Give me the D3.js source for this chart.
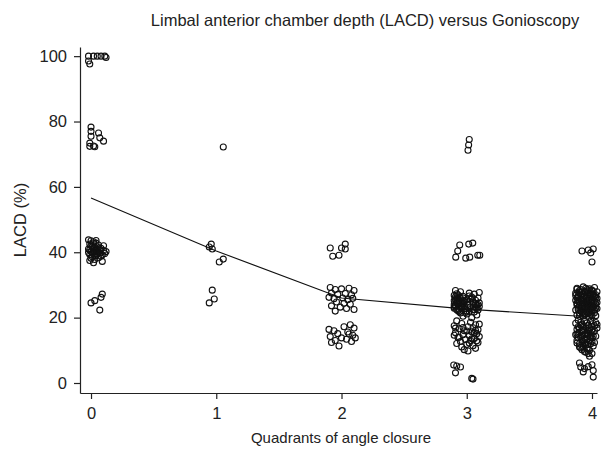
<!DOCTYPE html>
<html><head><meta charset="utf-8">
<script src="https://cdn.jsdelivr.net/npm/d3@7/dist/d3.min.js"></script>
<style>body{margin:0;background:#fff}svg{display:block}text{font-family:"Liberation Sans",Arial,Helvetica,sans-serif;fill:#222}</style>
</head><body><svg id="c" width="601" height="459"></svg>
<script>
const title = "Limbal anterior chamber depth (LACD) versus Gonioscopy";
const xLabel = "Quadrants of angle closure";
const yLabel = "LACD (%)";
const xTicks = [0, 1, 2, 3, 4];
const yTicks = [0, 20, 40, 60, 80, 100];

// fitted line (quadrant, mean LACD)
const lineQ = [0, 1, 2, 3, 4];
const lineV = [56.6, 40.4, 26.0, 22.6, 20.2];

// points: [jittered quadrant offset, LACD %]
const g0 = [[-0.02,100],[0.02,100],[0.05,100],[0.08,100],[0.11,100],[0.12,99.6],[-0.02,98.5],[-0.01,97.6],
  [0.0,78.3],[0.0,77],[0.0,75.5],[-0.01,73.4],[-0.01,72.4],[0.02,72.5],[0.06,76.5],[0.07,75],[0.1,74],[0.03,72.3],
  [-0.02,43.8],[0.0,43.5],[0.02,43.2],[0.04,42.8],[-0.01,42.5],[0.06,42.2],[0.01,41.8],[0.03,41.5],[0.08,41.2],[-0.02,41],
  [0.05,40.8],[0.1,40.5],[0.0,40.2],[0.02,40],[0.07,39.8],[0.11,39.6],[-0.01,39.3],[0.04,39],[0.09,39.2],[0.12,40.2],
  [0.01,38.6],[0.06,38.3],[0.03,37.8],[-0.01,37.5],[0.09,37.2],[0.02,36.8],[0.05,41.6],[0.1,42],
  [0.0,42.0],[0.02,41.2],[0.04,40.5],[0.01,39.7],[0.03,38.9],[-0.01,40.8],[0.05,39.5],[0.07,40.9],[0.0,38.2],[0.04,43.6],
  [0.02,42.6],[0.06,40.0],[-0.02,39.9],[0.08,38.8],[0.03,40.3],
  [0.0,24.5],[0.03,25.2],[0.08,26.2],[0.09,27.2],[0.07,22.3]];
const g1 = [[0.056,72.2],[-0.04,42.5],[-0.056,41.6],[-0.032,41],[0.056,37.9],[0.024,37],[-0.032,28.4],[-0.016,25.7],[-0.056,24.5]];
const g2 = [[-0.09,41.3],[-0.07,38.8],[-0.02,39.1],[0.0,41.3],[0.03,42.5],[0.03,41],
  [-0.09,29.2],[-0.05,28.6],[0.0,28.8],[0.06,29],[0.1,28.3],[-0.08,27.5],[-0.03,27.1],[0.03,27.4],[0.08,27],
  [-0.1,26.2],[-0.06,25.8],[0.01,26],[0.05,25.5],[0.09,25.9],[-0.04,24.8],[0.02,24.4],[0.07,24.1],[-0.08,23.6],
  [-0.01,23.2],[0.04,22.8],[0.1,22.5],[-0.05,22.0],
  [-0.1,16.4],[-0.06,16.0],[0.02,17.2],[0.07,17.8],[0.1,16.8],[-0.03,15.1],[0.05,15.6],[-0.09,14.2],[0.0,13.8],
  [0.09,14.6],[-0.05,13.0],[0.04,13.4],[0.08,12.7],[-0.02,11.3],[-0.08,12.4],[0.06,15.0],[0.11,13.8]];
const g3 = [[0.02,74.5],[0.015,72.8],[0.01,71.2],
  [-0.056,42.2],[0.016,42.5],[0.048,42.8],[-0.072,40.4],[-0.088,38.5],[-0.008,38.2],[0.024,38.5],[0.088,39.1],[0.104,39.1],
  [-0.09,28.3],[-0.05,27.9],[0.02,27.5],[0.06,27.2],[-0.1,26.8],[-0.03,26.5],[0.04,26.3],[0.09,26.0],[-0.07,25.8],[0.0,25.5],
  [0.07,25.3],[-0.08,25.1],[-0.02,24.9],[0.05,24.7],[0.1,24.5],[-0.06,24.3],[0.01,24.1],[0.08,23.9],[-0.09,23.7],[-0.04,23.5],
  [0.03,23.3],[0.07,23.1],[-0.1,22.9],[-0.01,22.7],[0.05,22.5],[0.09,22.3],[-0.07,22.1],[0.02,21.9],[0.06,21.7],[-0.05,21.4],
  [0.0,21.1],[0.08,20.8],[-0.03,20.4],[0.04,20.0],[0.1,27.7],[-0.08,26.1],[0.03,25.6],[-0.02,24.8],[0.07,24.2],[-0.09,23.6],
  [0.01,23.0],[0.06,22.4],[-0.06,25.0],[0.09,24.0],[-0.04,23.2],[0.02,26.6],[-0.1,25.2],[0.05,24.6],[0.08,22.8],[-0.01,21.6],
  [-0.07,27.0],[0.04,25.9],[-0.03,24.4],[0.1,23.4],[0.0,22.0],
  [-0.09,25.5],[-0.08,24.6],[-0.07,23.9],[-0.06,22.6],[-0.05,25.9],[-0.04,24.2],[-0.1,24.0],[-0.08,22.4],[-0.06,26.3],[-0.05,23.3],
  [-0.03,25.2],[-0.09,26.4],[-0.07,24.8],[-0.04,22.8],[-0.02,23.7],[-0.1,23.3],[-0.06,21.8],[-0.08,27.3],[-0.03,26.0],[-0.05,24.9],
  [-0.08,19.0],[0.03,18.6],[-0.04,18.2],[0.07,17.8],[-0.1,17.5],[0.01,17.2],[0.05,16.9],[-0.06,16.6],[0.09,16.3],[-0.02,16.0],
  [0.04,15.7],[-0.09,15.4],[0.08,15.1],[-0.03,14.8],[0.02,14.5],[0.1,14.2],[-0.07,13.9],[0.06,13.6],[-0.01,13.3],[0.03,13.0],
  [-0.05,12.7],[0.09,12.4],[-0.08,12.1],[0.0,11.8],[0.05,11.4],[-0.04,11.0],[0.07,10.6],[-0.02,10.2],[0.01,9.8],[0.1,18.0],
  [-0.09,16.8],[0.06,15.5],[-0.06,14.0],[0.08,12.9],[-0.03,17.0],[0.04,13.5],[0.0,15.9],[-0.1,14.6],[0.02,12.2],[0.07,16.1],
  [-0.104,5.5],[-0.08,5.2],[-0.05,4.9],[-0.09,3.1],[0.05,1.2],[0.04,1.4]];
const g4 = [[-0.08,40.4],[-0.03,40.7],[0.01,41],[-0.01,39.8],[0.0,37],
  [-0.12,29.0],[-0.07,29.4],[-0.02,28.8],[0.02,29.2],[-0.1,28.3],[-0.05,28.0],[0.0,28.4],[0.04,27.9],[-0.13,27.5],[-0.08,27.3],
  [-0.03,27.6],[0.01,27.1],[-0.11,26.8],[-0.06,26.6],[-0.01,26.9],[0.03,26.4],[-0.12,26.1],[-0.09,25.8],[-0.04,26.0],[0.0,25.6],
  [0.04,25.9],[-0.13,25.3],[-0.07,25.1],[-0.02,25.4],[0.02,25.0],[-0.1,24.7],[-0.05,24.4],[0.0,24.8],[0.03,24.2],[-0.12,23.9],
  [-0.08,23.6],[-0.03,23.8],[0.01,23.4],[-0.11,23.1],[-0.06,22.9],[-0.01,22.6],[0.04,22.8],[-0.13,22.3],[-0.09,22.0],[-0.04,21.8],
  [0.0,22.1],[-0.1,21.4],[-0.05,21.2],[0.02,21.5],[-0.12,20.8],[-0.07,20.5],[-0.02,20.2],[0.03,20.6],[-0.09,28.6],[-0.04,27.0],
  [-0.06,24.0],[-0.11,25.0],[0.01,26.2],[-0.03,23.0],[-0.08,21.6],[0.02,23.7],[-0.05,25.7],[-0.1,27.8],[0.04,24.6],[-0.01,21.0],
  [-0.12,28.7],[-0.09,27.0],[-0.07,26.2],[-0.05,29.0],[-0.03,28.2],[-0.01,27.4],[0.01,28.0],[0.03,27.0],[-0.11,26.3],[-0.08,25.4],
  [-0.06,27.8],[-0.04,25.2],[-0.02,26.4],[0.0,27.0],[0.02,26.6],[-0.12,24.4],[-0.1,23.4],[-0.07,24.4],[-0.05,23.2],[-0.03,24.8],
  [-0.01,25.0],[0.01,24.6],[0.03,23.0],[-0.11,22.5],[-0.08,22.8],[-0.06,21.4],[-0.04,23.6],[-0.02,21.6],[0.0,23.3],[0.02,22.3],
  [-0.13,26.8],[-0.09,24.2],[-0.07,22.0],[-0.04,28.6],[-0.02,24.0],[0.01,22.9],[-0.1,20.4],[-0.06,20.9],[-0.03,21.3],[0.0,20.6],
  [-0.11,19.2],[-0.06,18.9],[-0.01,19.0],[0.03,18.5],[-0.13,18.3],[-0.08,18.0],[-0.03,17.7],[0.01,18.2],[-0.11,17.2],[-0.05,16.9],
  [0.0,17.3],[0.04,16.8],[-0.12,16.4],[-0.07,16.1],[-0.02,16.3],[0.02,15.9],[-0.1,15.5],[-0.04,15.2],[0.01,15.6],[-0.13,14.8],
  [-0.08,14.5],[-0.03,14.7],[0.03,14.3],[-0.11,13.9],[-0.06,13.6],[0.0,13.8],[-0.12,13.0],[-0.07,12.7],[-0.02,12.9],[0.02,12.4],
  [-0.1,12.0],[-0.05,11.6],[0.01,11.3],[-0.09,10.8],[-0.03,10.4],[-0.06,9.6],[0.0,9.0],[-0.02,8.2],[-0.09,17.6],[-0.01,14.0],
  [-0.12,15.0],[0.04,17.9],[-0.05,12.2],
  [-0.09,18.6],[-0.07,17.4],[-0.04,18.4],[-0.02,17.0],[0.0,16.2],[0.02,17.5],[-0.1,16.8],[-0.08,15.8],[-0.05,15.0],[-0.03,16.0],
  [-0.01,15.2],[0.01,14.4],[-0.11,15.2],[-0.09,14.0],[-0.06,14.8],[-0.04,13.4],[-0.02,14.2],[0.0,12.6],[-0.12,12.2],[-0.08,13.2],
  [-0.06,12.3],[-0.03,11.8],[-0.01,12.0],[-0.1,11.0],[-0.07,11.2],[-0.04,10.6],[-0.02,10.0],[-0.05,9.4],[-0.08,10.2],[-0.03,9.0],
  [-0.1,6.1],[-0.09,4.9],[-0.06,4.4],[-0.03,5.0],[0.0,5.6],[0.01,3.8],[0.01,1.8],[-0.07,3.4]];
const groups = [g0, g1, g2, g3, g4];

const FS = 16.5;
const svg = d3.select("#c");
const x = d3.scaleLinear().domain([-0.088, 4.04]).range([80, 597]);
const y = d3.scaleLinear().domain([-3.06, 102.8]).range([393, 47]);

const xAxis = svg.append("g").attr("transform", "translate(0,393)")
  .call(d3.axisBottom(x).tickValues(xTicks).tickFormat(d3.format("d")).tickSize(6).tickPadding(8).tickSizeOuter(0));
const yAxis = svg.append("g").attr("transform", "translate(80,0)")
  .call(d3.axisLeft(y).tickValues(yTicks).tickFormat(d3.format("d")).tickSize(6).tickPadding(7).tickSizeOuter(0));
[xAxis, yAxis].forEach(a => {
  a.select(".domain").attr("stroke", "#222").attr("stroke-width", 1.2);
  a.selectAll(".tick line").attr("stroke", "#222").attr("stroke-width", 1.2);
  a.selectAll(".tick text").attr("font-size", FS).attr("fill", "#222")
   .style("font-family", '"Liberation Sans",Arial,sans-serif');
});

const pts = [];
groups.forEach((g, i) => g.forEach(p => pts.push({q: i + p[0], v: p[1]})));
svg.append("g").selectAll("circle").data(pts).join("circle")
  .attr("cx", d => x(d.q)).attr("cy", d => y(d.v)).attr("r", 3)
  .attr("fill", "none").attr("stroke", "#111").attr("stroke-width", 1.1);

const line = d3.line().x(d => x(d[0])).y(d => y(d[1]));
svg.append("path").datum(lineQ.map((q, i) => [q, lineV[i]]))
  .attr("d", line).attr("fill", "none").attr("stroke", "#111").attr("stroke-width", 1.1);

svg.append("text").attr("x", 365).attr("y", 26).attr("text-anchor", "middle").attr("font-size", FS).text(title);
svg.append("text").attr("x", 341).attr("y", 443).attr("text-anchor", "middle").attr("font-size", 15).text(xLabel);
svg.append("text").attr("transform", "translate(26,220) rotate(-90)").attr("text-anchor", "middle").attr("font-size", FS).text(yLabel);
</script></body></html>
